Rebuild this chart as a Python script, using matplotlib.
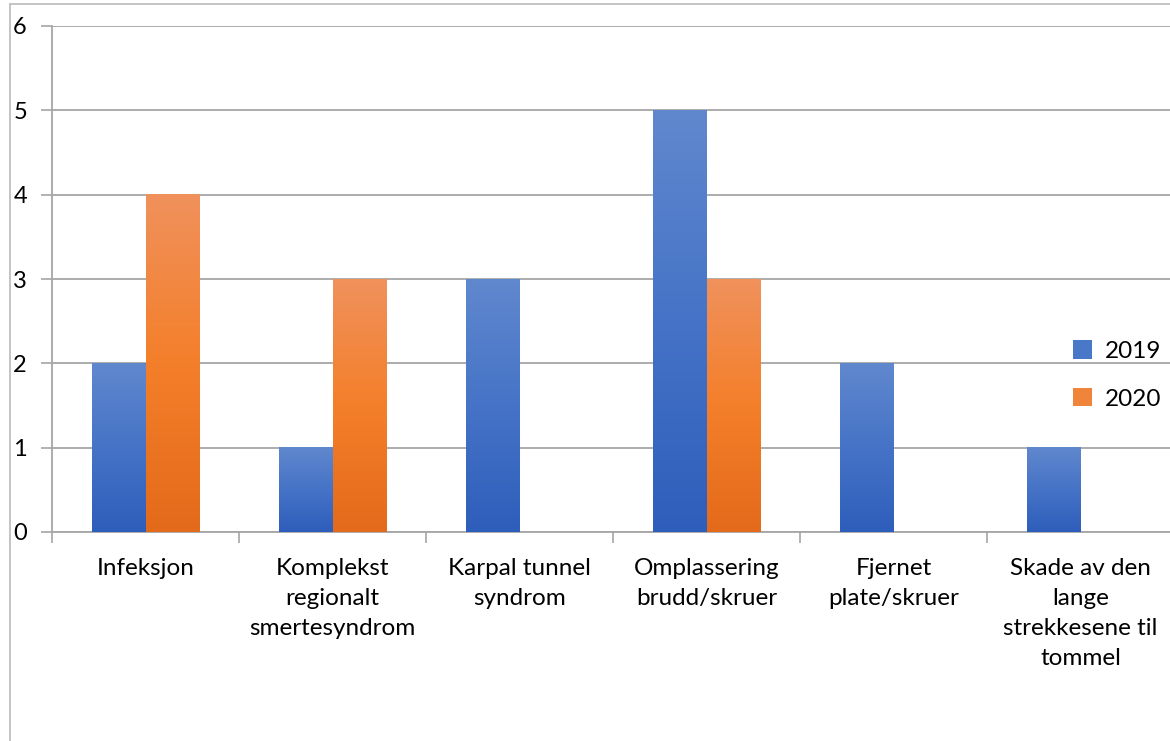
import numpy as np
import matplotlib
matplotlib.use("Agg")
import matplotlib.pyplot as plt
from matplotlib.colors import LinearSegmentedColormap
from matplotlib.lines import Line2D
from matplotlib.patches import Patch

categories = [
    "Infeksjon",
    "Komplekst\nregionalt\nsmertesyndrom",
    "Karpal tunnel\nsyndrom",
    "Omplassering\nbrudd/skruer",
    "Fjernet\nplate/skruer",
    "Skade av den\nlange\nstrekkesene til\ntommel",
]
series_labels = ["2019", "2020"]
values_2019 = [2, 1, 3, 5, 2, 1]
values_2020 = [4, 3, 0, 3, 0, 0]
y_ticks = [0, 1, 2, 3, 4, 5, 6]

plt.rcParams["font.family"] = ["Lato", "DejaVu Sans"]

W, H = 1170, 741
fig = plt.figure(figsize=(W / 100, H / 100), dpi=100)
ax = fig.add_axes([52 / W, (H - 532) / H, 1122 / W, 506 / H])

grid_c = "#A6A6A6"
blue_cmap = LinearSegmentedColormap.from_list("b", ["#2E5EBB", "#4673C7", "#6088CE"])
orange_cmap = LinearSegmentedColormap.from_list("o", ["#E36A1A", "#F47F2A", "#F0915C"])

x = np.arange(len(categories))
w = 0.288
grad = np.linspace(0, 1, 256).reshape(-1, 1)

for vals, offset, cmap in [(values_2019, -w / 2, blue_cmap), (values_2020, w / 2, orange_cmap)]:
    bars = ax.bar(x + offset, vals, width=w, color="none", linewidth=0, zorder=3)
    for b in bars:
        h = b.get_height()
        if h <= 0:
            continue
        x0 = b.get_x()
        ax.imshow(grad, cmap=cmap, origin="lower", aspect="auto",
                  extent=[x0, x0 + b.get_width(), 0, h], zorder=3, interpolation="bicubic")

ax.set_xlim(-0.5, len(categories) - 0.5)
ax.set_ylim(0, 6)
ax.set_yticks(y_ticks)
ax.set_yticklabels([str(t) for t in y_ticks])
ax.yaxis.grid(True, color=grid_c, linewidth=1.3, zorder=0)
ax.set_axisbelow(True)

ax.set_xticks(np.arange(-0.5, len(categories), 1.0))
ax.set_xticklabels([])
ax.set_xticks(x, minor=True)
ax.set_xticklabels(categories, minor=True, fontsize=17.5, linespacing=1.52)
ax.tick_params(axis="x", which="major", length=8, color=grid_c, width=1.2, direction="out")
ax.tick_params(axis="x", which="minor", length=0, pad=19)
ax.tick_params(axis="y", length=8, color=grid_c, width=1.2, labelsize=17, pad=10)

for s in ["top", "right"]:
    ax.spines[s].set_visible(False)
for s in ["left", "bottom"]:
    ax.spines[s].set_color(grid_c)
    ax.spines[s].set_linewidth(1.3)

handles = [Patch(facecolor="#4A78C9", edgecolor="none"),
           Patch(facecolor="#F0843A", edgecolor="none")]
fig.legend(handles, series_labels, loc="center left",
           bbox_to_anchor=(1051 / W, 1 - 375 / H), frameon=False, fontsize=17.5,
           handlelength=0.8, handleheight=0.8, handletextpad=0.5, labelspacing=1.05)

border_c = "#BFBFBF"
fig.add_artist(Line2D([10 / W, 10 / W], [0, 1 - 4 / H], color=border_c, linewidth=1.3))
fig.add_artist(Line2D([10 / W, 1], [1 - 4 / H, 1 - 4 / H], color=border_c, linewidth=1.3))

fig.savefig("out.png", dpi=100)
